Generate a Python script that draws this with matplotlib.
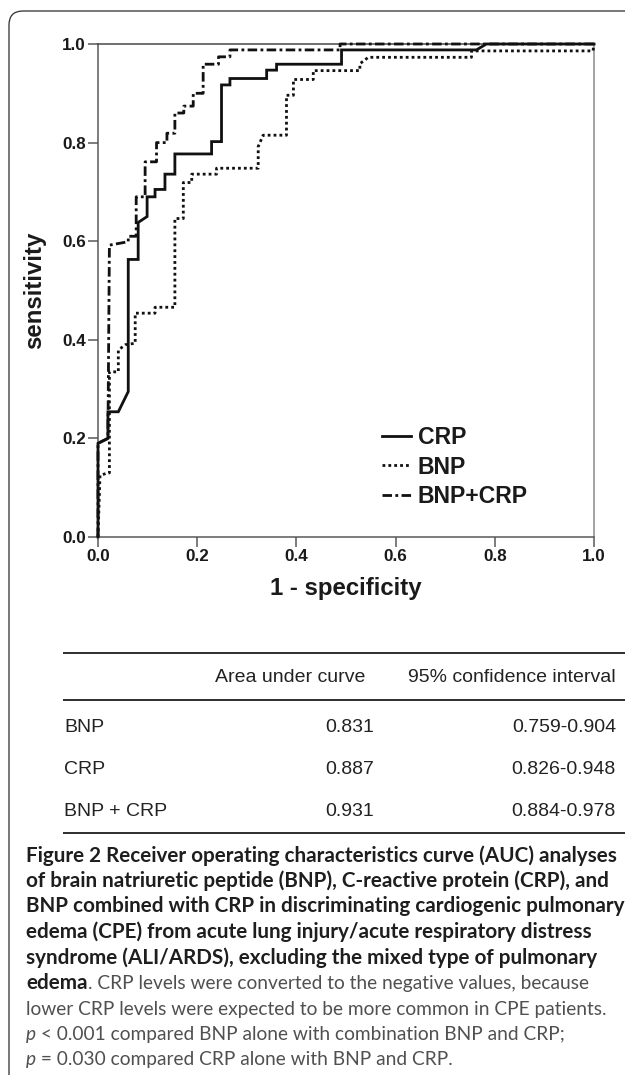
import matplotlib
matplotlib.use('Agg')
import matplotlib.pyplot as plt
from matplotlib.patches import FancyBboxPatch
from matplotlib.lines import Line2D
from matplotlib.transforms import IdentityTransform

# ---------------- data ----------------
crp_fpr = [0, 0, 0.02, 0.02, 0.041, 0.061, 0.061, 0.081, 0.081, 0.099, 0.099, 0.115, 0.115,
           0.135, 0.135, 0.155, 0.155, 0.229, 0.229, 0.249, 0.249, 0.266, 0.266, 0.340, 0.340,
           0.360, 0.360, 0.491, 0.491, 0.763, 0.783, 1.0]
crp_tpr = [0, 0.19, 0.20, 0.254, 0.254, 0.295, 0.563, 0.563, 0.638, 0.65, 0.690, 0.690, 0.705,
           0.705, 0.736, 0.736, 0.777, 0.777, 0.802, 0.802, 0.917, 0.917, 0.930, 0.930, 0.947,
           0.947, 0.959, 0.959, 0.988, 0.988, 1.0, 1.0]

bnp_fpr = [0, 0.004, 0.02, 0.023, 0.023, 0.041, 0.041, 0.055, 0.075, 0.075, 0.115, 0.115,
           0.155, 0.155, 0.172, 0.172, 0.189, 0.189, 0.239, 0.239, 0.323, 0.323, 0.333, 0.380,
           0.380, 0.394, 0.394, 0.434, 0.434, 0.528, 0.528, 0.545, 0.753, 0.753, 0.998, 1.0]
bnp_tpr = [0, 0.125, 0.13, 0.13, 0.335, 0.335, 0.379, 0.39, 0.393, 0.454, 0.454, 0.466,
           0.466, 0.646, 0.646, 0.719, 0.719, 0.736, 0.736, 0.748, 0.748, 0.792, 0.815, 0.815,
           0.896, 0.896, 0.928, 0.928, 0.946, 0.946, 0.960, 0.973, 0.973, 0.986, 0.986, 1.0]

comb_fpr = [0, 0, 0.02, 0.023, 0.061, 0.061, 0.077, 0.077, 0.095, 0.095, 0.118, 0.118, 0.139,
            0.139, 0.155, 0.155, 0.173, 0.173, 0.192, 0.192, 0.212, 0.212, 0.243, 0.243, 0.266,
            0.266, 0.488, 0.488, 1.0]
comb_tpr = [0, 0.19, 0.20, 0.592, 0.599, 0.61, 0.61, 0.690, 0.690, 0.761, 0.761, 0.800, 0.800,
            0.819, 0.819, 0.860, 0.860, 0.874, 0.874, 0.900, 0.900, 0.959, 0.959, 0.974, 0.974,
            0.988, 0.988, 1.0, 1.0]

series_labels = ['CRP', 'BNP', 'BNP+CRP']
ticks = [0.0, 0.2, 0.4, 0.6, 0.8, 1.0]
tick_labels = ['0.0', '0.2', '0.4', '0.6', '0.8', '1.0']

table_header = ['', 'Area under curve', '95% confidence interval']
table_rows = ['BNP', 'CRP', 'BNP + CRP']
table_auc = ['0.831', '0.887', '0.931']
table_ci = ['0.759-0.904', '0.826-0.948', '0.884-0.978']

# ---------------- layout helpers ----------------
W, H, DPI = 625, 1075, 100
fig = plt.figure(figsize=(W / DPI, H / DPI), dpi=DPI)
fig.patch.set_facecolor('white')

def fx(px):
    return px / W

def fy(py):
    return 1 - py / H

def pt(px):
    return px * 72.0 / DPI

AXFONT = 'Liberation Sans'
TXT = '#1a1a1a'
SPINE = '#555555'

# outer rounded frame (clipped by right and bottom edges)
frame = FancyBboxPatch((9, -30), 700, H - 11 + 30, boxstyle='round,pad=0,rounding_size=14',
                       transform=IdentityTransform(), facecolor='none', edgecolor='#333333',
                       linewidth=pt(1.3))
fig.patches.append(frame)

# ---------------- ROC axes ----------------
x0, x1, y0, y1 = 98, 594, 44, 537
ax = fig.add_axes([fx(x0), fy(y1), (x1 - x0) / W, (y1 - y0) / H])
ax.set_xlim(0, 1)
ax.set_ylim(0, 1)

lw = pt(2.8)
ax.plot(crp_fpr, crp_tpr, color='#111111', lw=lw, linestyle='-', solid_joinstyle='miter',
        clip_on=False, label=series_labels[0], zorder=3)
ax.plot(bnp_fpr, bnp_tpr, color='#111111', lw=lw, linestyle=(0, (1.0, 1.1)),
        dash_capstyle='butt', clip_on=False, label=series_labels[1], zorder=3)
ax.plot(comb_fpr, comb_tpr, color='#111111', lw=lw, linestyle=(0, (3.4, 1.2, 1.0, 1.2)),
        dash_capstyle='butt', clip_on=False, label=series_labels[2], zorder=3)

for s in ax.spines.values():
    s.set_color(SPINE)
    s.set_linewidth(pt(1.5))
ax.spines['right'].set_color('#888888')
ax.spines['top'].set_color('#444444')

ax.set_xticks(ticks)
ax.set_yticks(ticks)
ax.set_xticklabels(tick_labels)
ax.set_yticklabels(tick_labels)
ax.tick_params(direction='out', length=pt(10), width=pt(1.5), color=SPINE, pad=pt(2),
               labelsize=pt(17), labelcolor=TXT)
for lab in ax.get_xticklabels() + ax.get_yticklabels():
    lab.set_fontfamily(AXFONT)
    lab.set_fontweight('bold')

fig.text(fx(35), fy(290), 'sensitivity', rotation=90, ha='center', va='center',
         fontsize=pt(24), fontweight='bold', family=AXFONT, color=TXT)
fig.text(fx(346), fy(589), '1 - specificity', ha='center', va='center',
         fontsize=pt(24), fontweight='bold', family=AXFONT, color=TXT)

leg = ax.legend(loc='center left', bbox_to_anchor=(fx(382), fy(467)),
                bbox_transform=fig.transFigure, frameon=False, borderpad=0, borderaxespad=0,
                handlelength=1.25, handletextpad=0.3, labelspacing=0.28,
                prop={'family': AXFONT, 'weight': 'bold', 'size': pt(23)})
for t in leg.get_texts():
    t.set_color(TXT)

# ---------------- table ----------------
RULE = '#333333'
tfont = dict(family=AXFONT, fontsize=pt(19.5), color='#222222')

def hrule(ypx, lwpx=2):
    fig.add_artist(Line2D([fx(64), 1.0], [fy(ypx), fy(ypx)], transform=fig.transFigure,
                          color=RULE, lw=pt(lwpx)))

hrule(653)
hrule(700)
hrule(833)
fig.text(fx(365), fy(678), table_header[1], ha='right', va='center', **tfont)
fig.text(fx(616), fy(678), table_header[2], ha='right', va='center', **tfont)
row_y = [727, 769, 811]
for i in range(len(table_rows)):
    fig.text(fx(64), fy(row_y[i]), table_rows[i], ha='left', va='center', **tfont)
    fig.text(fx(374), fy(row_y[i]), table_auc[i], ha='right', va='center', **tfont)
    fig.text(fx(616), fy(row_y[i]), table_ci[i], ha='right', va='center', **tfont)

# ---------------- caption ----------------
renderer = fig.canvas.get_renderer()
CAPFONT = 'Lato'
BOLD_C = '#1e1e1e'
REG_C = '#505050'

def seg_width(text, props, size):
    a = fig.text(0, 0, 'x' + text + 'x', fontsize=size, **props)
    b = fig.text(0, 0, 'xx', fontsize=size, **props)
    w = a.get_window_extent(renderer).width - b.get_window_extent(renderer).width
    a.remove()
    b.remove()
    return w

bold_p = dict(family=CAPFONT, fontweight='bold', color=BOLD_C)
reg_p = dict(family=CAPFONT, fontweight='normal', color=REG_C)
ital_p = dict(family=CAPFONT, fontweight='normal', style='italic', color=REG_C)

cap_x0 = 26
w10 = seg_width('Figure 2 Receiver operating characteristics curve (AUC) analyses', bold_p, 10)
bold_size = 10 * 592 / w10
w10r = seg_width('lower CRP levels were expected to be more common in CPE patients.', reg_p, 10)
reg_size = 10 * 584 / w10r

cap_lines = [
    [('Figure 2 Receiver operating characteristics curve (AUC) analyses', 'b')],
    [('of brain natriuretic peptide (BNP), C-reactive protein (CRP), and', 'b')],
    [('BNP combined with CRP in discriminating cardiogenic pulmonary', 'b')],
    [('edema (CPE) from acute lung injury/acute respiratory distress', 'b')],
    [('syndrome (ALI/ARDS), excluding the mixed type of pulmonary', 'b')],
    [('edema', 'b'), ('. CRP levels were converted to the negative values, because', 'r')],
    [('lower CRP levels were expected to be more common in CPE patients.', 'r')],
    [('p', 'i'), (' < 0.001 compared BNP alone with combination BNP and CRP;', 'r')],
    [('p', 'i'), (' = 0.030 compared CRP alone with BNP and CRP.', 'r')],
]
pmap = {'b': (bold_p, bold_size), 'r': (reg_p, reg_size), 'i': (ital_p, reg_size)}
for i, line in enumerate(cap_lines):
    ycen = 855 + 25.5 * i
    xcur = cap_x0
    for text, kind in line:
        props, size = pmap[kind]
        fig.text(fx(xcur), fy(ycen + 6.5), text, ha='left', va='baseline', fontsize=size, **props)
        xcur += seg_width(text, props, size)

fig.savefig('out.png', dpi=DPI, facecolor='white')
